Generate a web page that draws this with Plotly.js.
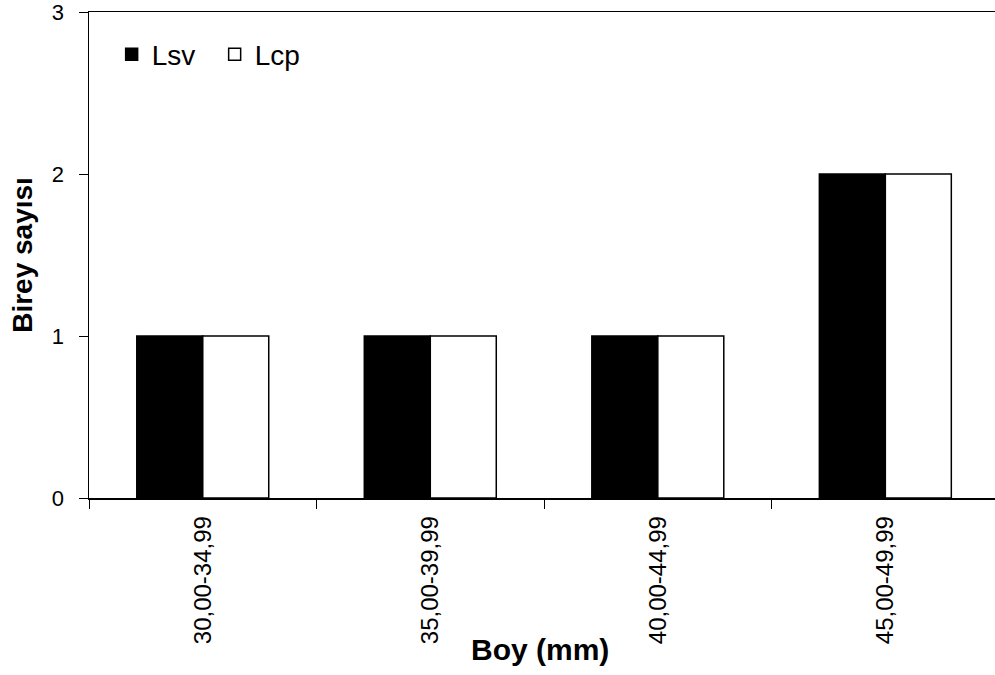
<!DOCTYPE html>
<html>
<head>
<meta charset="utf-8">
<script src="https://cdn.plot.ly/plotly-3.0.1.min.js"></script>
<style>html,body{margin:0;padding:0;background:#fff;overflow:hidden;}</style>
</head>
<body>
<div id="chart" style="width:995px;height:675px;"></div>
<script>
const categories = ["30,00-34,99", "35,00-39,99", "40,00-44,99", "45,00-49,99"];
const lsvValues = [1, 1, 1, 2];
const lcpValues = [1, 1, 1, 2];
const yTickVals = [0, 1, 2, 3];
const yTickText = ["0", "1", "2", "3"];
const xTitle = "Boy (mm)";
const yTitle = "Birey sayısı";

const font = "Liberation Sans, Arial, sans-serif";

const data = [
  {type: "bar", name: "Lsv", x: categories, y: lsvValues,
   marker: {color: "#000000", line: {color: "#000000", width: 1.5}}},
  {type: "bar", name: "Lcp", x: categories, y: lcpValues,
   marker: {color: "#ffffff", line: {color: "#000000", width: 1.5}}}
];

const layout = {
  width: 995, height: 675,
  margin: {l: 89, r: 0, t: 12, b: 177},
  paper_bgcolor: "#ffffff", plot_bgcolor: "#ffffff",
  font: {family: font, color: "#000000"},
  barmode: "group", bargap: 0.42, bargroupgap: 0,
  showlegend: true,
  legend: {orientation: "h", x: 0.025, y: 0.964, xanchor: "left", yanchor: "top",
           font: {family: font, size: 28, color: "#000"}, bgcolor: "rgba(0,0,0,0)",
           traceorder: "normal", itemwidth: 30, entrywidth: 58},
  xaxis: {type: "category", range: [-0.5, 3.482], showgrid: false, zeroline: false,
          showline: true, linecolor: "#000", linewidth: 1.5, mirror: true,
          ticks: "outside", tickson: "boundaries", ticklen: 9, tickcolor: "#000", tickwidth: 1,
          ticklabelstandoff: 7,
          tickangle: -90, tickfont: {family: font, size: 24, color: "#000"}, fixedrange: true},
  yaxis: {range: [0, 3], tickvals: yTickVals, ticktext: yTickText, showgrid: false, zeroline: false,
          showline: true, linecolor: "#000", linewidth: 1.5, mirror: true,
          ticks: "outside", ticklen: 9, tickcolor: "#000", tickwidth: 1,
          ticklabelstandoff: 10, ticklabeloverflow: "allow",
          tickfont: {family: font, size: 22, color: "#000"},
          title: {text: "<b>" + yTitle + "</b>", font: {family: font, size: 28, color: "#000"}, standoff: 11}},
  annotations: [
    {text: "<b>" + xTitle + "</b>", xref: "paper", yref: "paper", x: (540 - 89) / 906, y: -(649 - 498) / 486,
     xanchor: "center", yanchor: "middle", showarrow: false,
     font: {family: font, size: 30, color: "#000"}}
  ]
};

Plotly.newPlot("chart", data, layout, {displayModeBar: false, staticPlot: true});
</script>
</body>
</html>
